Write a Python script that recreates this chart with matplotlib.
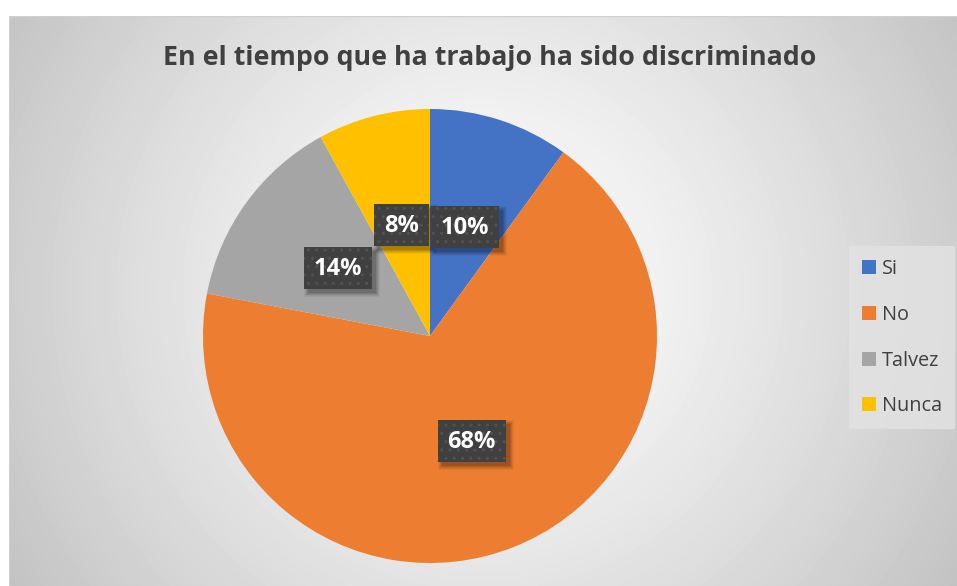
import numpy as np
import matplotlib.pyplot as plt
from matplotlib.patches import Patch, Rectangle, Circle

categorias = ['Si', 'No', 'Talvez', 'Nunca']
valores = [10, 68, 14, 8]
colores = ['#4472C4', '#ED7D31', '#A5A5A5', '#FFC000']
titulo = 'En el tiempo que ha trabajo ha sido discriminado'

W, H = 957, 586
fig = plt.figure(figsize=(W / 100, H / 100), dpi=100)
fig.patch.set_facecolor('white')

# fondo con degradado radial (area del grafico)
x0, y0 = 9, 16
bg = fig.add_axes([x0 / W, 0, 1 - x0 / W, 1 - y0 / H])
bg.set_axis_off()
xx, yy = np.meshgrid(np.arange(x0, W), np.arange(y0, H))
d = np.hypot(xx - 483, yy - 290) / 553
g = 1 - 0.235 * np.clip(d, 0, 1.1) ** 1.25
bg.imshow(g, cmap='gray', vmin=0, vmax=1, aspect='auto',
          extent=[0, 1, 0, 1], interpolation='bilinear')
bg.set_xlim(0, 1)
bg.set_ylim(0, 1)
bg.plot([0, 0], [0, 1], color='#cfcfcf', lw=1)
bg.plot([0, 1], [1, 1], color='#d0d0d0', lw=1)

# pastel
cx, cy, r = 430, 336, 227
ax = fig.add_axes([(cx - r) / W, (H - cy - r) / H, 2 * r / W, 2 * r / H])
wedges, textos, autotextos = ax.pie(valores, colors=colores, startangle=90,
                                   counterclock=False, autopct='%.0f%%',
                                   pctdistance=0.5)
ax.set_xlim(-1, 1)
ax.set_ylim(-1, 1)
ax.set_aspect('equal')
# brillo suave alrededor del pastel
for k in range(1, 13):
    ax.add_patch(Circle((0, 0), 1 + k / r, facecolor='white', edgecolor='none',
                        alpha=0.035, zorder=0, clip_on=False))

fuente = ['Open Sans', 'DejaVu Sans']
for t in autotextos:
    t.set_color('white')
    t.set_fontsize(17)
    t.set_fontweight('bold')
    t.set_family(fuente)
    t.set_zorder(6)

fig.text(490 / W, 1 - 58 / H, titulo, ha='center', va='center',
         fontsize=19.3, fontweight='bold', color='#404040', family=fuente)

handles = [Patch(facecolor=c, label=n) for c, n in zip(colores, categorias)]
leg = fig.legend(handles=handles, loc='upper left',
                 bbox_to_anchor=(849 / W, 1 - 246 / H),
                 frameon=True, fancybox=False,
                 handlelength=0.7, handleheight=0.7, handletextpad=0.3,
                 labelspacing=1.3, borderpad=0.65, borderaxespad=0,
                 prop={'family': fuente, 'size': 14.3})
fr = leg.get_frame()
fr.set_facecolor('#e3e3e3')
fr.set_edgecolor('none')
fr.set_alpha(0.8)
for t in leg.get_texts():
    t.set_color('#404040')

# cajas de las etiquetas con sombra suave
fig.canvas.draw()
ren = fig.canvas.get_renderer()
inv = ax.transAxes.inverted()
for t in autotextos:
    bb = t.get_window_extent(ren)
    mx = (bb.x0 + bb.x1) / 2
    my = (bb.y0 + bb.y1) / 2 + 1
    bw = bb.width + 20
    bh = 42
    bx0, by0 = mx - bw / 2, my - bh / 2
    for grow, a in [(4, 0.04), (3, 0.06), (2, 0.08), (1, 0.1), (0, 0.1)]:
        p0 = inv.transform((bx0 + 4 - grow, by0 - 4 - grow))
        p1 = inv.transform((bx0 + bw + 4 + grow, by0 + bh - 4 + grow))
        ax.add_patch(Rectangle(p0, p1[0] - p0[0], p1[1] - p0[1],
                               transform=ax.transAxes, facecolor='black',
                               edgecolor='none', alpha=a, zorder=4))
    p0 = inv.transform((bx0, by0))
    p1 = inv.transform((bx0 + bw, by0 + bh))
    ax.add_patch(Rectangle(p0, p1[0] - p0[0], p1[1] - p0[1],
                           transform=ax.transAxes, facecolor='#404040',
                           edgecolor='#525252', linewidth=0, hatch='..',
                           zorder=5))

fig.savefig('out.png', dpi=100)
